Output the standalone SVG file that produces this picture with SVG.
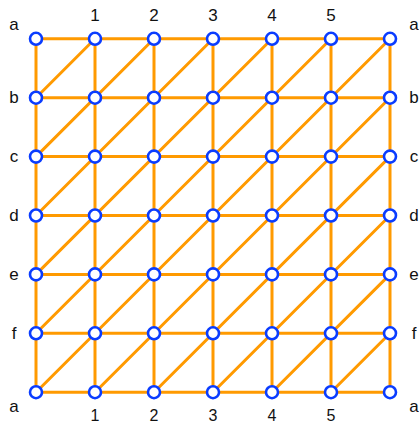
<svg xmlns="http://www.w3.org/2000/svg" width="419" height="425" viewBox="0 0 419 425">
<style>
.e{stroke:#ff9a00;stroke-width:3;fill:none;stroke-linecap:round}
.n{fill:#fff;stroke:#0a3cff;stroke-width:2.6}
.t{font-family:"Liberation Sans",Arial,sans-serif;font-size:17px;fill:#111;text-anchor:middle}
.b{font-size:16px}
</style>
<rect width="419" height="425" fill="#fff"/>
<g id="connectors">
<line class="e" x1="36" y1="38.8" x2="390" y2="38.8"/>
<line class="e" x1="36" y1="97.7" x2="390" y2="97.7"/>
<line class="e" x1="36" y1="156.6" x2="390" y2="156.6"/>
<line class="e" x1="36" y1="215.5" x2="390" y2="215.5"/>
<line class="e" x1="36" y1="274.4" x2="390" y2="274.4"/>
<line class="e" x1="36" y1="333.3" x2="390" y2="333.3"/>
<line class="e" x1="36" y1="392.2" x2="390" y2="392.2"/>
<line class="e" x1="36" y1="38.8" x2="36" y2="392.2"/>
<line class="e" x1="95" y1="38.8" x2="95" y2="392.2"/>
<line class="e" x1="154" y1="38.8" x2="154" y2="392.2"/>
<line class="e" x1="213" y1="38.8" x2="213" y2="392.2"/>
<line class="e" x1="272" y1="38.8" x2="272" y2="392.2"/>
<line class="e" x1="331" y1="38.8" x2="331" y2="392.2"/>
<line class="e" x1="390" y1="38.8" x2="390" y2="392.2"/>
<line class="e" x1="36" y1="97.7" x2="95" y2="38.8"/>
<line class="e" x1="36" y1="156.6" x2="154" y2="38.8"/>
<line class="e" x1="36" y1="215.5" x2="213" y2="38.8"/>
<line class="e" x1="36" y1="274.4" x2="272" y2="38.8"/>
<line class="e" x1="36" y1="333.3" x2="331" y2="38.8"/>
<line class="e" x1="36" y1="392.2" x2="390" y2="38.8"/>
<line class="e" x1="95" y1="392.2" x2="390" y2="97.7"/>
<line class="e" x1="154" y1="392.2" x2="390" y2="156.6"/>
<line class="e" x1="213" y1="392.2" x2="390" y2="215.5"/>
<line class="e" x1="272" y1="392.2" x2="390" y2="274.4"/>
<line class="e" x1="331" y1="392.2" x2="390" y2="333.3"/>
</g>
<g id="nodes">
<g id="n0-0"><circle class="n" cx="36" cy="38.8" r="6"/></g>
<g id="n1-0"><circle class="n" cx="95" cy="38.8" r="6"/></g>
<g id="n2-0"><circle class="n" cx="154" cy="38.8" r="6"/></g>
<g id="n3-0"><circle class="n" cx="213" cy="38.8" r="6"/></g>
<g id="n4-0"><circle class="n" cx="272" cy="38.8" r="6"/></g>
<g id="n5-0"><circle class="n" cx="331" cy="38.8" r="6"/></g>
<g id="n6-0"><circle class="n" cx="390" cy="38.8" r="6"/></g>
<g id="n0-1"><circle class="n" cx="36" cy="97.7" r="6"/></g>
<g id="n1-1"><circle class="n" cx="95" cy="97.7" r="6"/></g>
<g id="n2-1"><circle class="n" cx="154" cy="97.7" r="6"/></g>
<g id="n3-1"><circle class="n" cx="213" cy="97.7" r="6"/></g>
<g id="n4-1"><circle class="n" cx="272" cy="97.7" r="6"/></g>
<g id="n5-1"><circle class="n" cx="331" cy="97.7" r="6"/></g>
<g id="n6-1"><circle class="n" cx="390" cy="97.7" r="6"/></g>
<g id="n0-2"><circle class="n" cx="36" cy="156.6" r="6"/></g>
<g id="n1-2"><circle class="n" cx="95" cy="156.6" r="6"/></g>
<g id="n2-2"><circle class="n" cx="154" cy="156.6" r="6"/></g>
<g id="n3-2"><circle class="n" cx="213" cy="156.6" r="6"/></g>
<g id="n4-2"><circle class="n" cx="272" cy="156.6" r="6"/></g>
<g id="n5-2"><circle class="n" cx="331" cy="156.6" r="6"/></g>
<g id="n6-2"><circle class="n" cx="390" cy="156.6" r="6"/></g>
<g id="n0-3"><circle class="n" cx="36" cy="215.5" r="6"/></g>
<g id="n1-3"><circle class="n" cx="95" cy="215.5" r="6"/></g>
<g id="n2-3"><circle class="n" cx="154" cy="215.5" r="6"/></g>
<g id="n3-3"><circle class="n" cx="213" cy="215.5" r="6"/></g>
<g id="n4-3"><circle class="n" cx="272" cy="215.5" r="6"/></g>
<g id="n5-3"><circle class="n" cx="331" cy="215.5" r="6"/></g>
<g id="n6-3"><circle class="n" cx="390" cy="215.5" r="6"/></g>
<g id="n0-4"><circle class="n" cx="36" cy="274.4" r="6"/></g>
<g id="n1-4"><circle class="n" cx="95" cy="274.4" r="6"/></g>
<g id="n2-4"><circle class="n" cx="154" cy="274.4" r="6"/></g>
<g id="n3-4"><circle class="n" cx="213" cy="274.4" r="6"/></g>
<g id="n4-4"><circle class="n" cx="272" cy="274.4" r="6"/></g>
<g id="n5-4"><circle class="n" cx="331" cy="274.4" r="6"/></g>
<g id="n6-4"><circle class="n" cx="390" cy="274.4" r="6"/></g>
<g id="n0-5"><circle class="n" cx="36" cy="333.3" r="6"/></g>
<g id="n1-5"><circle class="n" cx="95" cy="333.3" r="6"/></g>
<g id="n2-5"><circle class="n" cx="154" cy="333.3" r="6"/></g>
<g id="n3-5"><circle class="n" cx="213" cy="333.3" r="6"/></g>
<g id="n4-5"><circle class="n" cx="272" cy="333.3" r="6"/></g>
<g id="n5-5"><circle class="n" cx="331" cy="333.3" r="6"/></g>
<g id="n6-5"><circle class="n" cx="390" cy="333.3" r="6"/></g>
<g id="n0-6"><circle class="n" cx="36" cy="392.2" r="6"/></g>
<g id="n1-6"><circle class="n" cx="95" cy="392.2" r="6"/></g>
<g id="n2-6"><circle class="n" cx="154" cy="392.2" r="6"/></g>
<g id="n3-6"><circle class="n" cx="213" cy="392.2" r="6"/></g>
<g id="n4-6"><circle class="n" cx="272" cy="392.2" r="6"/></g>
<g id="n5-6"><circle class="n" cx="331" cy="392.2" r="6"/></g>
<g id="n6-6"><circle class="n" cx="390" cy="392.2" r="6"/></g>
</g>
<g id="labels" class="t">
<text x="95" y="21">1</text>
<text x="154" y="21">2</text>
<text x="213" y="21">3</text>
<text x="272" y="21">4</text>
<text x="331" y="21">5</text>
<text class="b" x="95" y="421">1</text>
<text class="b" x="154" y="421">2</text>
<text class="b" x="213" y="421">3</text>
<text class="b" x="272" y="421">4</text>
<text class="b" x="331" y="421">5</text>
<text x="14" y="30">a</text>
<text x="14" y="103">b</text>
<text x="14" y="162">c</text>
<text x="14" y="221">d</text>
<text x="14" y="280">e</text>
<text x="14" y="339">f</text>
<text x="14" y="412">a</text>
<text x="414" y="30">a</text>
<text x="414" y="103">b</text>
<text x="414" y="162">c</text>
<text x="414" y="221">d</text>
<text x="414" y="280">e</text>
<text x="414" y="339">f</text>
<text x="414" y="412">a</text>
</g>
</svg>
